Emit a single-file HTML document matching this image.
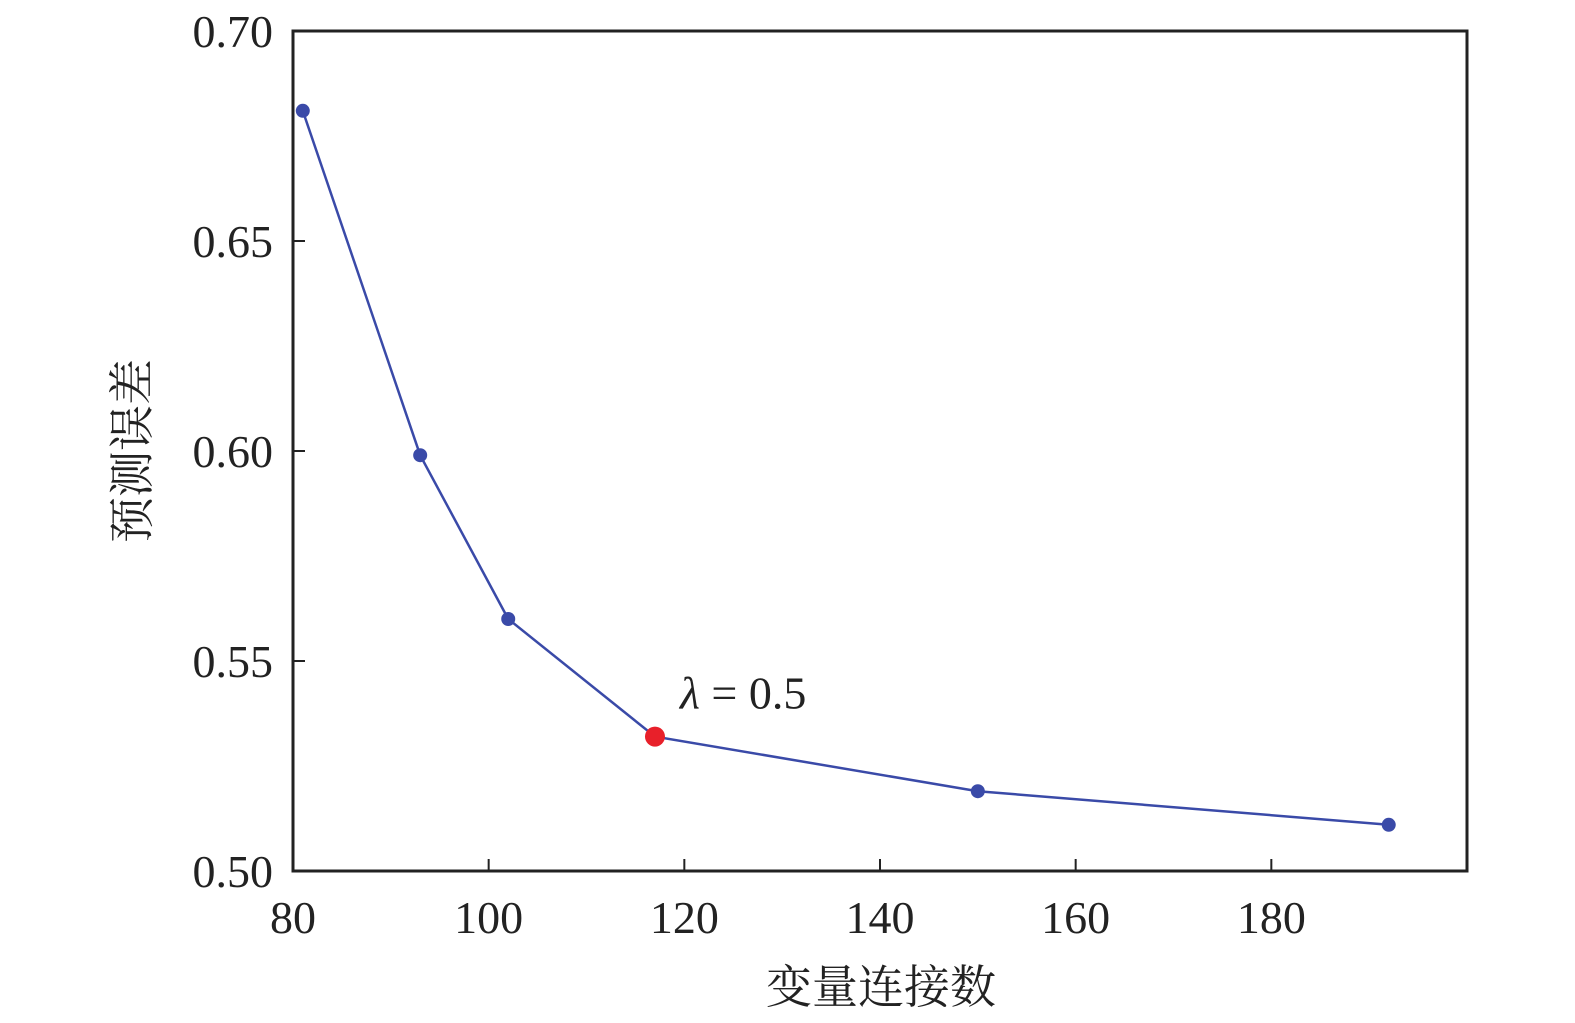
<!DOCTYPE html>
<html><head><meta charset="utf-8"><style>
html,body{margin:0;padding:0;background:#fff;}
svg text{font-family:"Liberation Serif","Noto Serif CJK SC",serif;fill:#222;}
</style></head><body>
<svg id="chart" width="1575" height="1018" xmlns="http://www.w3.org/2000/svg">
<rect x="293" y="31" width="1174" height="840" fill="none" stroke="#222" stroke-width="3"/>
<g id="xticks"></g>
<g id="yticks"></g>
<g id="series"></g>
<text x="881" y="1003" font-size="46" text-anchor="middle">变量连接数</text>
<text transform="translate(148,451) rotate(-90)" font-size="46" text-anchor="middle">预测误差</text>
<text id="ann" font-size="46"><tspan font-style="italic">λ</tspan> = 0.5</text>
</svg>
<script>
const xValues=[81,93,102,117,150,192];
const yValues=[0.681,0.599,0.560,0.532,0.519,0.511];
const highlightIndex=3;
const xTicks=[80,100,120,140,160,180];
const yTicks=[0.50,0.55,0.60,0.65,0.70];
const yTickLabels=["0.50","0.55","0.60","0.65","0.70"];
const L=293,R=1467,T=31,B=871,X0=80,X1=200,Y0=0.5,Y1=0.7;
const sx=v=>L+(v-X0)/(X1-X0)*(R-L);
const sy=v=>B-(v-Y0)/(Y1-Y0)*(B-T);
const NS="http://www.w3.org/2000/svg";
function mk(t,a,p){const e=document.createElementNS(NS,t);for(const k in a)e.setAttribute(k,a[k]);p.appendChild(e);return e;}
const gx=document.getElementById('xticks'),gy=document.getElementById('yticks'),gs=document.getElementById('series');
xTicks.forEach(v=>{
 const l=mk('line',{x1:sx(v),x2:sx(v),y1:B,y2:B-12,stroke:'#222','stroke-width':2},gx);
 
 
 const t=mk('text',{x:sx(v),y:B+62,'font-size':46,'text-anchor':'middle'},gx);t.textContent=v;
 
 
});
yTicks.forEach((v,i)=>{
 const l=mk('line',{x1:L,x2:L+12,y1:sy(v),y2:sy(v),stroke:'#222','stroke-width':2},gy);
 
 
 const t=mk('text',{x:L-20,y:sy(v)+16,'font-size':46,'text-anchor':'end'},gy);t.textContent=yTickLabels[i];
 
 
});
const pl=mk('polyline',{points:xValues.map((x,i)=>sx(x)+','+sy(yValues[i])).join(' '),fill:'none',stroke:'#3a4aa8','stroke-width':2.5},gs);


xValues.forEach((x,i)=>{
 const h=i===highlightIndex;
 const c=mk('circle',{cx:sx(x),cy:sy(yValues[i]),r:h?10:7,fill:h?'#e8202a':'#3a4aa8'},gs);
 
 
});
const a=document.getElementById('ann');
a.setAttribute('x',sx(xValues[highlightIndex])+25);
a.setAttribute('y',sy(yValues[highlightIndex])-28);
</script>
</body></html>
